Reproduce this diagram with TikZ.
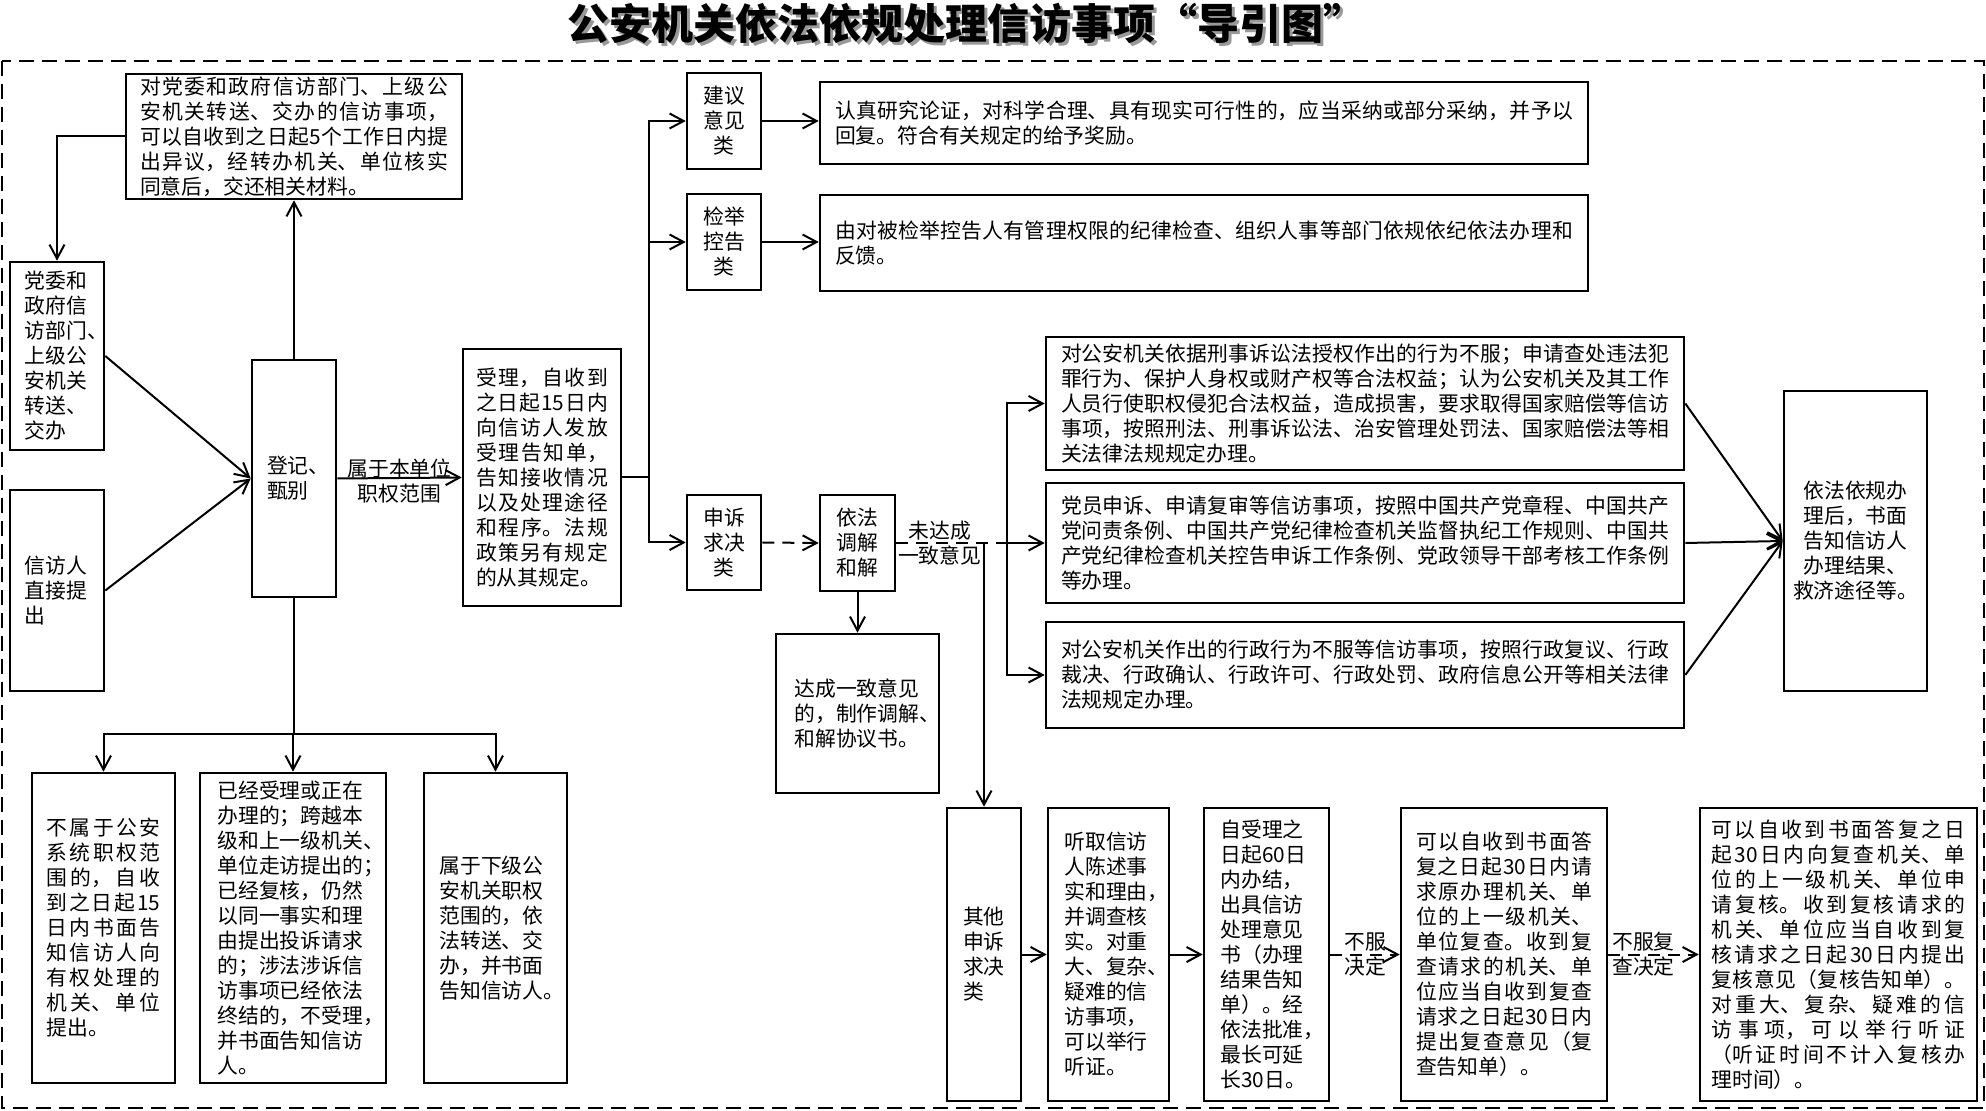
\documentclass[tikz,border=0pt]{standalone}
\usepackage{fontspec}
\setmainfont{Noto Sans CJK SC}
\usetikzlibrary{arrows.meta}

\begin{document}
\begin{tikzpicture}[x=0.5pt, y=-0.5pt,
    box/.style={draw, line width=1.3pt, inner sep=0pt, align=center,
      font=\fontsize{10.4pt}{12.5pt}\selectfont},
    para/.style={box, align=justify, text width=#1,
      execute at begin node={\XeTeXlinebreaklocale "zh"\XeTeXlinebreakskip=0pt plus 3pt}},
    lbox/.style={box, align=left, text width=#1,
      execute at begin node={\XeTeXlinebreaklocale ""\XeTeXlinebreakskip=0pt}},
    arr/.style={line width=1pt, -{Straight Barb[length=7pt, width=7.5pt]}},
    darr/.style={arr, dash pattern=on 6pt off 4pt},
    lbl/.style={font=\fontsize{10.4pt}{12.5pt}\selectfont, align=center, inner sep=0pt}]
    \useasboundingbox (0,0) rectangle (1986,1111);
    \draw[line width=1.4pt, dash pattern=on 7.5pt off 4pt] (2,61) rectangle (1984,1108);
    \node[font=\fontsize{21pt}{24pt}\selectfont\bfseries, text=black!40] (titleshadow) at (969,26) {公安机关依法依规处理信访事项“导引图”};
    \node[font=\fontsize{21pt}{24pt}\selectfont\bfseries] (title) at (966,23) {公安机关依法依规处理信访事项“导引图”};

    \node[para=154pt, minimum width=168pt, minimum height=62.5pt] (top) at (294,136.5) {对党委和政府信访部门、上级公\linebreak 安机关转送、交办的信访事项，\linebreak 可以自收到之日起5个工作日内提\linebreak 出异议，经转办机关、单位核实\linebreak 同意后，交还相关材料。};
    \node[lbox=32pt, minimum width=47pt, minimum height=94pt] (dangwei) at (57,356) {党委和\\政府信\\访部门、\\上级公\\安机关\\转送、\\交办};
    \node[lbox=32pt, minimum width=47pt, minimum height=100.5pt] (xinfang) at (57,590.5) {信访人\\直接提\\出};
    \node[lbox=27pt, minimum width=42pt, minimum height=118.5pt] (dengji) at (294,478.5) {登记、\\甄别};
    \node[para=66pt, minimum width=79pt, minimum height=128.5pt] (shouli) at (542,477.5) {受理，自收到\linebreak 之日起15日内\linebreak 向信访人发放\linebreak 受理告知单，\linebreak 告知接收情况\linebreak 以及处理途径\linebreak 和程序。法规\linebreak 政策另有规定\linebreak 的从其规定。};

    \node[box, minimum width=37pt, minimum height=48pt] (jianyi) at (724,121) {建议\\意见\\类};
    \node[box, minimum width=37pt, minimum height=48pt] (jianju) at (724,242) {检举\\控告\\类};
    \node[box, minimum width=37pt, minimum height=47.5pt] (shensu) at (724,542.5) {申诉\\求决\\类};
    \node[para=369pt, minimum width=384pt, minimum height=41pt] (renzhen) at (1204,123) {认真研究论证，对科学合理、具有现实可行性的，应当采纳或部分采纳，并予以\linebreak 回复。符合有关规定的给予奖励。};
    \node[para=369pt, minimum width=384pt, minimum height=48pt] (youdui) at (1204,243) {由对被检举控告人有管理权限的纪律检查、组织人事等部门依规依纪依法办理和\linebreak 反馈。};
    \node[box, minimum width=37.5pt, minimum height=48pt] (yifa) at (857.5,543) {依法\\调解\\和解};
    \node[lbox=63pt, minimum width=81.5pt, minimum height=79.5pt] (dacheng) at (857.5,713.5) {达成一致意见\\的，制作调解、\\和解协议书。};

    \node[para=304pt, minimum width=319pt, minimum height=66.5pt] (caseA) at (1365,403.5) {对公安机关依据刑事诉讼法授权作出的行为不服；申请查处违法犯\linebreak 罪行为、保护人身权或财产权等合法权益；认为公安机关及其工作\linebreak 人员行使职权侵犯合法权益，造成损害，要求取得国家赔偿等信访\linebreak 事项，按照刑法、刑事诉讼法、治安管理处罚法、国家赔偿法等相\linebreak 关法律法规规定办理。};
    \node[para=304pt, minimum width=319pt, minimum height=60pt] (caseB) at (1365,543) {党员申诉、申请复审等信访事项，按照中国共产党章程、中国共产\linebreak 党问责条例、中国共产党纪律检查机关监督执纪工作规则、中国共\linebreak 产党纪律检查机关控告申诉工作条例、党政领导干部考核工作条例\linebreak 等办理。};
    \node[para=304pt, minimum width=319pt, minimum height=53pt] (caseC) at (1365,675) {对公安机关作出的行政行为不服等信访事项，按照行政复议、行政\linebreak 裁决、行政确认、行政许可、行政处罚、政府信息公开等相关法律\linebreak 法规规定办理。};
    \node[box, minimum width=71.5pt, minimum height=150pt] (result) at (1855.5,541) {依法依规办\\理后，书面\\告知信访人\\办理结果、\\救济途径等。};

    \node[lbox=21pt, minimum width=37pt, minimum height=146.5pt] (qita) at (984,954.5) {其他\\申诉\\求决\\类};
    \node[lbox=44pt, minimum width=60.5pt, minimum height=146.5pt] (tingqu) at (1108.5,954.5) {听取信访\\人陈述事\\实和理由，\\并调查核\\实。对重\\大、复杂、\\疑难的信\\访事项，\\可以举行\\听证。};
    \node[lbox=46pt, minimum width=62.5pt, minimum height=146.5pt] (banjie) at (1266.5,954.5) {自受理之\\日起60日\\内办结，\\出具信访\\处理意见\\书（办理\\结果告知\\单）。经\\依法批准，\\最长可延\\长30日。};
    \node[para=88pt, minimum width=103pt, minimum height=146.5pt] (fucha) at (1504,954.5) {可以自收到书面答\linebreak 复之日起30日内请\linebreak 求原办理机关、单\linebreak 位的上一级机关、\linebreak 单位复查。收到复\linebreak 查请求的机关、单\linebreak 位应当自收到复查\linebreak 请求之日起30日内\linebreak 提出复查意见（复\linebreak 查告知单）。};
    \node[para=127pt, minimum width=138.5pt, minimum height=146.5pt] (fuhe) at (1838.5,954.5) {可以自收到书面答复之日\linebreak 起30日内向复查机关、单\linebreak 位的上一级机关、单位申\linebreak 请复核。收到复核请求的\linebreak 机关、单位应当自收到复\linebreak 核请求之日起30日内提出\linebreak 复核意见（复核告知单）。\linebreak 对重大、复杂、疑难的信\linebreak 访事项，可以举行听证\linebreak （听证时间不计入复核办\linebreak 理时间）。};

    \node[para=57pt, minimum width=71.5pt, minimum height=155pt] (bushu) at (103.5,928) {不属于公安\linebreak 系统职权范\linebreak 围的，自收\linebreak 到之日起15\linebreak 日内书面告\linebreak 知信访人向\linebreak 有权处理的\linebreak 机关、单位\linebreak 提出。};
    \node[lbox=75.5pt, minimum width=93pt, minimum height=155pt] (yijing) at (293,928) {已经受理或正在\\办理的；跨越本\\级和上一级机关、\\单位走访提出的；\\已经复核，仍然\\以同一事实和理\\由提出投诉请求\\的；涉法涉诉信\\访事项已经依法\\终结的，不受理，\\并书面告知信访\\人。};
    \node[lbox=56pt, minimum width=71.5pt, minimum height=155pt] (xiaji) at (495.5,928) {属于下级公\\安机关职权\\范围的，依\\法转送、交\\办，并书面\\告知信访人。};

    % left part
    \draw[arr] (top.west) -| (dangwei.north);
    \draw[arr] (dengji.north) -- (top.south);
    \draw[arr] (dangwei.east) -- (dengji.west);
    \draw[arr] (xinfang.east) -- (dengji.west);
    \draw[arr] (dengji.east) -- node[lbl, yshift=-1.5pt] (inscope) {属于本单位\\职权范围} (shouli.west);
    \path (dengji.south) ++(0,136) coordinate (down);
    \draw[line width=1pt] (dengji.south) -- (down);
    \draw[arr] (down) -| (bushu.north);
    \draw[arr] (down) -| (yijing.north);
    \draw[arr] (down) -| (xiaji.north);

    % sorting by kind
    \path (shouli.east) ++(27,0) coordinate (fork);
    \draw[line width=1pt] (shouli.east) -- (fork);
    \draw[arr] (fork) |- (jianyi.west);
    \draw[arr] (fork) |- (jianju.west);
    \draw[arr] (fork) |- (shensu.west);
    \draw[arr] (jianyi.east) -- (jianyi.east -| renzhen.west);
    \draw[arr] (jianju.east) -- (jianju.east -| youdui.west);
    \draw[darr] (shensu.east) -- (yifa.west);
    \draw[arr] (yifa.south) -- (dacheng.north);

    % no agreement
    \path (yifa.east) ++(111,0) coordinate (split);
    \draw[line width=1pt, dash pattern=on 6pt off 4pt] (yifa.east) -- node[lbl, pos=0.39] (noagree) {未达成\\一致意见} (split);
    \draw[arr] (split) |- (caseA.west);
    \draw[arr] (split) -- (caseB.west);
    \draw[arr] (split) |- (caseC.west);
    \draw[arr] (caseA.east) -- (result.west);
    \draw[arr] (caseB.east) -- (result.west);
    \draw[arr] (caseC.east) -- (result.west);
    \draw[arr] (qita.north |- yifa.east) -- (qita.north);

    % bottom row
    \draw[arr] (qita.east) -- (tingqu.west);
    \draw[arr] (tingqu.east) -- (banjie.west);
    \draw[darr] (banjie.east) -- node[lbl] (refuse) {不服\\决定} (fucha.west);
    \draw[darr] (fucha.east) -- node[lbl, xshift=-5pt] (refusetwo) {不服复\\查决定} (fuhe.west);
\end{tikzpicture}
\end{document}
